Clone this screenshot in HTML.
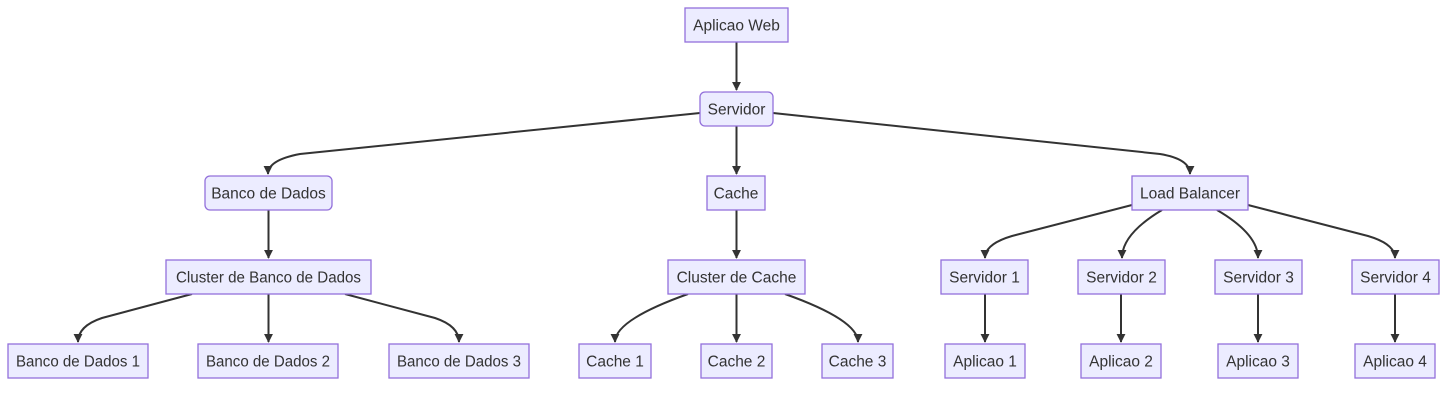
<!DOCTYPE html>
<html><head><meta charset="utf-8"><style>
html,body{margin:0;padding:0;background:#fff;}
svg{display:block;}
text{font-family:"Liberation Sans","DejaVu Sans",sans-serif;font-size:15.5px;fill:#333;}
.n{fill:#ECECFF;stroke:#9370DB;stroke-width:1.3;}
.e{fill:none;stroke:#333;stroke-width:2;}
</style></head><body>
<svg width="1447" height="409" viewBox="0 0 1447 409" xmlns="http://www.w3.org/2000/svg">
<defs><marker id="a" viewBox="0 0 10 10" refX="9" refY="5" markerWidth="4.5" markerHeight="4.5" orient="auto"><path d="M0,0L10,5L0,10z" fill="#333"/></marker></defs>
<g class="e">
<path d="M736.5,42 V90" marker-end="url(#a)"/>
<path d="M736.5,126 V174" marker-end="url(#a)"/>
<path d="M700,113 L300,154 Q268,160 268,174" marker-end="url(#a)"/>
<path d="M773,113 L1160,154 Q1190,159 1190,174" marker-end="url(#a)"/>
<path d="M268.5,210 V258" marker-end="url(#a)"/>
<path d="M736.5,210 V258" marker-end="url(#a)"/>
<path d="M1132,205 L1012,236 Q985,244 985,258" marker-end="url(#a)"/>
<path d="M1162,210 Q1122,234 1122,258" marker-end="url(#a)"/>
<path d="M1217,210 Q1258,234 1258,258" marker-end="url(#a)"/>
<path d="M1248,205 L1368,236 Q1395,244 1395,258" marker-end="url(#a)"/>
<path d="M192,294 L102,318 Q78,326 78,342" marker-end="url(#a)"/>
<path d="M268.5,294 V342" marker-end="url(#a)"/>
<path d="M345,294 L435,318 Q459,326 459,342" marker-end="url(#a)"/>
<path d="M688,294 Q615,320 615,342" marker-end="url(#a)"/>
<path d="M736.5,294 V342" marker-end="url(#a)"/>
<path d="M785,294 Q858,320 858,342" marker-end="url(#a)"/>
<path d="M985,294 V342" marker-end="url(#a)"/>
<path d="M1121,294 V342" marker-end="url(#a)"/>
<path d="M1258,294 V342" marker-end="url(#a)"/>
<path d="M1395,294 V342" marker-end="url(#a)"/>
</g>
<g>
<rect class="n" x="685" y="8" width="103" height="34"/>
<rect class="n" x="700" y="92" width="73" height="34" rx="5"/>
<rect class="n" x="205" y="176" width="127" height="34" rx="5"/>
<rect class="n" x="707" y="176" width="58" height="34"/>
<rect class="n" x="1132" y="176" width="116" height="34"/>
<rect class="n" x="166" y="260" width="205" height="34"/>
<rect class="n" x="668" y="260" width="137" height="34"/>
<rect class="n" x="941" y="260" width="87" height="34"/>
<rect class="n" x="1078" y="260" width="87" height="34"/>
<rect class="n" x="1215" y="260" width="87" height="34"/>
<rect class="n" x="1352" y="260" width="87" height="34"/>
<rect class="n" x="8" y="344" width="140" height="34"/>
<rect class="n" x="198" y="344" width="140" height="34"/>
<rect class="n" x="389" y="344" width="140" height="34"/>
<rect class="n" x="579" y="344" width="72" height="34"/>
<rect class="n" x="701" y="344" width="71" height="34"/>
<rect class="n" x="822" y="344" width="71" height="34"/>
<rect class="n" x="945" y="344" width="80" height="34"/>
<rect class="n" x="1081" y="344" width="80" height="34"/>
<rect class="n" x="1218" y="344" width="80" height="34"/>
<rect class="n" x="1355" y="344" width="80" height="34"/>
</g>
<g text-anchor="middle">
<text x="736.5" y="30.5">Aplicao Web</text>
<text x="736.5" y="114.5">Servidor</text>
<text x="268.5" y="198.5">Banco de Dados</text>
<text x="736" y="198.5">Cache</text>
<text x="1190" y="198.5">Load Balancer</text>
<text x="268.5" y="282.5" textLength="185" lengthAdjust="spacingAndGlyphs">Cluster de Banco de Dados</text>
<text x="736.5" y="282.5">Cluster de Cache</text>
<text x="984.5" y="282.5">Servidor 1</text>
<text x="1121.5" y="282.5">Servidor 2</text>
<text x="1258.5" y="282.5">Servidor 3</text>
<text x="1395.5" y="282.5">Servidor 4</text>
<text x="78" y="366.5" textLength="124" lengthAdjust="spacingAndGlyphs">Banco de Dados 1</text>
<text x="268" y="366.5" textLength="124" lengthAdjust="spacingAndGlyphs">Banco de Dados 2</text>
<text x="459" y="366.5" textLength="124" lengthAdjust="spacingAndGlyphs">Banco de Dados 3</text>
<text x="615" y="366.5">Cache 1</text>
<text x="736.5" y="366.5">Cache 2</text>
<text x="857.5" y="366.5">Cache 3</text>
<text x="985" y="366.5">Aplicao 1</text>
<text x="1121" y="366.5">Aplicao 2</text>
<text x="1258" y="366.5">Aplicao 3</text>
<text x="1395" y="366.5">Aplicao 4</text>
</g>
</svg>
</body></html>
